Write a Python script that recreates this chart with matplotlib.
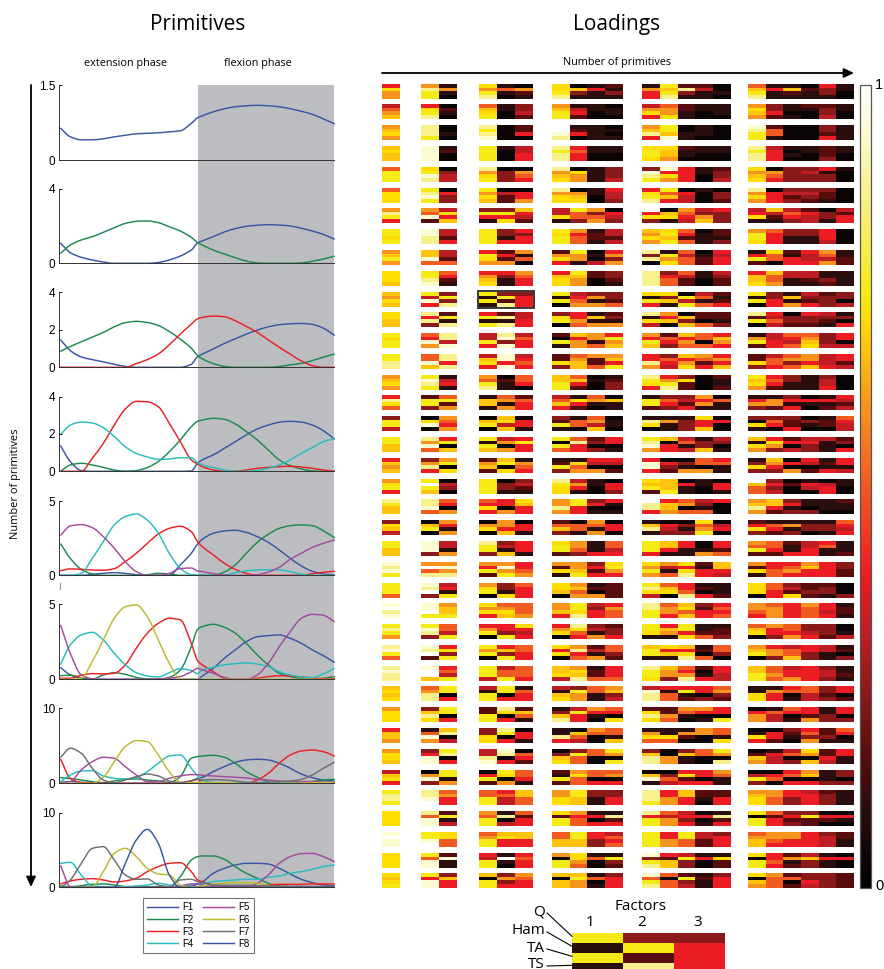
import numpy as np
import matplotlib
matplotlib.use("Agg")
import matplotlib.pyplot as plt
from matplotlib.colors import LinearSegmentedColormap
from matplotlib.patches import Rectangle, PathPatch
from matplotlib.path import Path

W, H = 884, 969

# ---------- primitives (x = % of gait cycle) ----------
X = [0.5, 4, 8, 12, 16, 20, 24, 28, 32, 36, 40, 44, 48, 50.3, 52, 56, 60, 64, 68, 72, 76, 80, 84, 88, 92, 96, 100]

P1_F1 = [.64,.47,.41,.41,.43,.47,.50,.53,.54,.55,.57,.59,.74,.85,.89,.97,1.03,1.07,1.09,1.10,1.09,1.07,1.03,.98,.92,.83,.73]

P2_F1 = [1.07,.57,.32,.18,.07,0,0,0,0,.04,.18,.39,.71,1.09,1.2,1.43,1.68,1.86,1.98,2.04,2.07,2.05,2.0,1.88,1.73,1.55,1.3]
P2_F2 = [.54,.98,1.25,1.43,1.66,1.91,2.14,2.25,2.27,2.18,1.96,1.73,1.39,1.11,.98,.71,.5,.3,.12,.02,0,0,0,.02,.11,.23,.38]

P3_F1 = [1.46,.89,.55,.41,.29,.16,.05,0,0,0,0,0,.16,.57,.7,.98,1.27,1.52,1.77,1.98,2.16,2.27,2.32,2.34,2.29,2.09,1.71]
P3_F2 = [.86,1.11,1.36,1.61,1.86,2.16,2.38,2.45,2.39,2.23,1.91,1.5,1.02,.63,.45,.2,.05,0,0,0,0,.04,.13,.21,.36,.54,.7]
P3_F3 = [0,0,0,0,0,0,0,.2,.41,.71,1.2,1.77,2.3,2.59,2.66,2.73,2.7,2.48,2.18,1.86,1.46,1.07,.7,.34,.09,0,0]

P4_F1 = [1.36,.52,.04,0,0,0,0,0,0,0,0,0,.02,.43,.61,.88,1.23,1.59,1.95,2.27,2.48,2.63,2.68,2.64,2.48,2.18,1.73]
P4_F2 = [0,.34,.43,.34,.21,.07,0,.04,.2,.52,1.05,1.68,2.39,2.68,2.75,2.84,2.79,2.54,2.13,1.68,1.14,.61,.3,.13,.02,0,0]
P4_F3 = [0,0,0,.7,1.5,2.48,3.34,3.75,3.73,3.46,2.57,1.59,.61,.39,.25,.07,0,0,.07,.16,.21,.25,.27,.23,.16,.07,0]
P4_F4 = [1.98,2.48,2.64,2.59,2.34,1.86,1.32,.96,.77,.64,.66,.73,.73,.46,.34,.2,.07,0,0,.05,.16,.34,.61,.96,1.27,1.59,1.75]

P5_F1 = [0,0,0,.07,.13,.18,.13,.04,0,0,0,.7,1.48,2.11,2.42,2.83,2.98,3.03,2.89,2.6,2.22,1.7,1.14,.63,.27,.09,.02]
P5_F2 = [2.11,1.14,.4,.09,0,0,0,0,.04,.13,.09,0,0,0,0,0,.22,.7,1.48,2.22,2.76,3.16,3.34,3.39,3.34,3.0,2.53]
P5_F3 = [.31,.43,.4,.36,.34,.45,.92,1.48,2.15,2.78,3.16,3.3,2.94,2.26,1.93,1.37,.81,.4,.13,0,0,0,0,.02,.11,.2,.27]
P5_F4 = [0,0,.13,1.14,2.26,3.39,3.95,4.13,3.72,2.83,1.48,.47,.04,0,0,0,0,.18,.29,.36,.38,.36,.25,.07,0,0,0]
P5_F5 = [2.71,3.32,3.41,3.21,2.6,1.82,.92,.25,0,0,.13,.45,.49,.29,.25,.11,.02,0,0,.04,.22,.54,1.08,1.48,1.88,2.15,2.38]

P6_F1 = [.78,.29,.07,0,0,0,0,0,0,0,0,0,0,0,.22,.73,1.4,1.96,2.51,2.84,2.91,2.96,2.73,2.4,1.96,1.58,1.13]
P6_F2 = [.24,.27,.11,0,.29,.44,.33,.13,.02,0,.13,.62,2.18,3.33,3.51,3.67,3.47,3.07,2.4,1.62,.96,.4,.18,.04,0,.07,.18]
P6_F3 = [.07,.07,.27,.38,.36,.4,.96,2.07,3.07,3.73,4.07,3.96,2.4,1.24,.96,.51,.07,0,0,.07,.18,.24,.22,.16,.09,.04,.04]
P6_F4 = [1.02,2.29,2.96,3.13,2.62,1.73,.96,.44,.22,.16,.44,.71,.58,.38,.62,.8,.96,1.04,1.09,1.02,.84,.51,.29,.16,.11,.36,.71]
P6_F5 = [3.6,1.73,.29,.04,0,0,0,0,0,.03,.07,.18,.5,.73,.62,.4,.13,0,0,.29,1.07,2.18,3.18,4.07,4.33,4.27,3.84]
P6_F6 = [0,0,.07,1.18,2.62,4.07,4.84,4.96,4.18,2.62,1.07,.02,0,0,0,0,0,0,0,0,0,0,0,0,0,0,0]

P7_F1 = [.13,.22,.13,.09,.04,0,0,0,0,0,0,0,.31,.67,.8,1.56,2.22,2.8,3.11,3.2,3.11,2.67,2.0,1.24,.76,.44,.31]
P7_F2 = [.76,.62,.44,.22,.09,.31,.53,.58,.44,.31,.13,.89,3.33,3.56,3.64,3.73,3.47,2.67,1.56,.8,.22,0,0,0,.22,.44,.53]
P7_F3 = [3.2,.67,.09,.04,0,0,0,0,0,0,0,.09,.31,.53,0,0,0,0,0,.44,1.33,2.67,3.78,4.31,4.44,4.22,3.64]
P7_F4 = [.22,1.11,1.64,1.69,.98,.67,.58,.76,1.56,2.67,3.64,3.78,2.0,.98,.44,.09,0,.09,.09,.09,.13,.09,.04,0,0,0,0]
P7_F5 = [0,.22,1.78,2.89,3.47,3.33,2.22,1.11,.22,.22,.67,.98,1.16,1.16,1.07,.98,.89,.8,.71,.53,.44,.31,.22,.22,.22,.18,.09]
P7_F6 = [0,0,0,0,.8,2.89,4.89,5.69,5.56,3.78,1.56,.13,.09,.13,.09,.09,.09,.04,0,0,0,0,0,.04,.09,.09,.09]
P7_F7 = [3.47,4.67,4.0,2.0,.44,.09,.44,.89,1.24,.98,.31,.09,.36,.53,.44,.49,.44,.31,.13,.09,.13,.22,.31,.53,1.11,2.0,2.8]

P8_F1 = [0,0,0,0,0,0,0,0,0,0,0,0,.18,.4,.71,1.88,2.54,2.99,3.21,3.21,3.12,2.54,1.79,1.07,.63,.31,.18]
P8_F2 = [.18,.09,.22,.4,.45,.31,.09,0,.09,.09,.09,1.43,3.66,4.11,4.2,4.2,3.75,2.77,1.88,1.21,.54,.09,0,0,0,0,0]
P8_F3 = [.45,.85,1.07,1.16,.98,.71,.85,1.21,2.1,2.77,3.21,3.3,2.1,.98,.76,.31,.18,.18,.18,.18,.31,.4,.4,.4,.45,.45,.45]
P8_F4 = [3.21,3.35,1.65,.18,.09,0,.09,.18,.31,.54,.31,.09,.31,.54,.54,.76,.89,.98,1.07,1.07,1.34,1.52,1.88,2.1,2.41,2.77,2.99]
P8_F5 = [2.9,.09,0,0,0,0,0,0,0,0,0,.18,.45,.45,.31,.09,0,0,0,.54,1.65,3.21,4.11,4.51,4.55,4.11,3.44]
P8_F6 = [0,0,0,.09,2.1,4.55,5.22,4.11,2.54,1.79,1.65,.31,0,.09,.18,.4,.54,.63,.63,.54,.27,.09,.09,.09,.09,.09,.09]
P8_F7 = [0,.98,3.21,5.22,5.45,3.66,1.65,1.07,1.12,.31,.09,.98,1.07,.76,.63,.31,.27,.27,.27,.22,.18,.18,.13,.13,.09,.09,.09]
P8_F8 = [0,0,0,0,0,0,3.2,6.34,7.77,5.89,1.65,0,0,0,0,0,0,0,0,0,0,0,0,0,0,0,0]

PANELS = [
    [P1_F1],
    [P2_F1, P2_F2],
    [P3_F1, P3_F2, P3_F3],
    [P4_F1, P4_F2, P4_F3, P4_F4],
    [P5_F1, P5_F2, P5_F3, P5_F4, P5_F5],
    [P6_F1, P6_F2, P6_F3, P6_F4, P6_F5, P6_F6],
    [P7_F1, P7_F2, P7_F3, P7_F4, P7_F5, P7_F6, P7_F7],
    [P8_F1, P8_F2, P8_F3, P8_F4, P8_F5, P8_F6, P8_F7, P8_F8],
]
Y_MAX = [1.5, 4, 4, 4, 5, 5, 10, 10]
Y_TICKS = [[0, 1.5], [0, 4], [0, 2, 4], [0, 2, 4], [0, 5], [0, 5], [0, 10], [0, 10]]
FACTOR_NAMES = ["F1", "F2", "F3", "F4", "F5", "F6", "F7", "F8"]

# ---------- loadings: one string per row of the matrix; groups of 1..6 factors,
# each four-character token = one factor column, top to bottom over Q, Ham, TA, TS
LOADINGS_TOP = [
 "5977 7baa 1710 97ab 1610 0721 99ab 0831 1511 2131 1755 a8ab 2b31 2411 0010 68ab 1511 1821 0211 5331 1100",
 "4678 59ab 0210 689a 1100 3342 78aa 1452 1100 0110 4795 6779 2211 1100 1110 7987 3352 1101 2100 2334 1100",
 "7897 bbba 0010 babc 0000 2250 ddcb 1250 1111 0101 78b5 aa8c 0011 1110 0000 cbaa 2661 0000 0000 3325 1111",
 "8988 cccc 1200 aaaa 1000 4455 babb 5655 1100 1100 9aa9 9887 2110 1100 1100 babb 4555 1010 1100 2223 1100",
 "6aaa 9acb 0344 b79a 0333 0765 b789 0977 1111 3334 3cba c597 5555 1100 2334 9789 0765 3333 3433 5133 1000",
 "6999 abca 0533 a798 0422 0557 b799 0789 1100 5443 59ab a685 0544 1000 0332 b797 0555 3423 3432 3221 0000",
 "7ba5 76c2 4958 3a51 3a59 8542 4491 a663 7367 0543 d593 0891 7654 4378 5333 4591 8421 4653 2544 0331 4255",
 "aa9a ccbb 4425 aaaa 3315 5355 a9aa 7566 1221 4424 8797 9a8a 6526 0111 2213 7aa9 6555 3311 3311 5554 0000",
 "78a7 88c6 4426 5a97 2527 7160 2795 a771 0104 5737 b3b0 1a79 6466 0122 5455 15a2 9660 2155 5445 7647 1122",
 "9998 aabc 6521 5789 5311 7655 5899 a877 2200 3321 bbbb 3566 6422 1100 4322 5889 8667 4411 4421 1132 1111",
 "8798 a4c5 3a3b a1a1 3a2b 3555 a1a0 4567 3717 3326 91a5 9381 0a4a 4616 2125 a1a0 3355 1817 4325 2333 3304",
 "9988 b5b3 2a1b 5a1a 2b1b 4455 39a0 5576 1817 2317 b194 7580 0838 2206 2213 b2a0 5464 0332 5332 4321 1305",
 "a9aa 65c7 bb4c 44a5 bc3c 4655 20a1 8577 7716 5a78 75a8 2653 8576 6606 5875 17a2 4455 6546 6789 3334 5504",
]
LOADINGS_MID = [
 "aabb 66c8 bb5b 4895 cc5c 4565 2293 6788 7226 785a 55b7 3654 8579 7625 5758 2293 4665 6736 7758 4445 5524",
 "7897 acba 1451 76ab 0211 6650 88aa 6852 0100 1233 ba95 57ab 3922 0000 2112 a897 5652 3311 1111 3445 0000",
 "5b96 2aa3 6a27 1881 6717 2655 4685 1952 6710 0811 1aa2 3653 3425 7571 0611 1573 1772 3515 0510 1512 5424",
 "3aa4 09c0 7657 08a0 8948 0551 32a1 1660 6748 0110 1b90 1711 1333 9558 0500 3091 3650 3225 0310 1220 6544",
 "aa88 b7c6 5a08 a1a8 4707 5a55 a0a6 6b55 2303 5501 abc7 8055 4614 1338 4301 8197 5973 2504 4533 4111 2305",
 "5878 37b5 7a09 2782 8a09 1765 12a3 1967 5407 5402 5cc5 0532 0317 6607 5611 1393 8753 0507 5402 1215 5514",
 "79a5 ada8 0430 aaaa 0331 3421 ba99 4751 1100 0553 98a2 888a 0511 1100 0551 d866 3534 0200 1540 0455 1100",
 "ba88 bbc6 6507 6595 5507 9855 77b7 aa55 3501 5101 dbb5 5887 6706 4316 5000 78b7 8852 3513 1103 1110 2110",
 "3984 08a0 7517 0790 7758 0551 2683 0661 7617 0550 18b1 0543 0313 967a 0450 2593 1652 1713 1330 1331 6545",
 "aa88 ccc3 4417 baa3 3418 5551 9aa2 7763 1115 6645 aaa5 8851 5511 0017 5526 76a2 6652 2115 4455 5611 1112",
 "cbca 7d6b 7c7b 75a2 7c7a 5567 7291 778a 3525 9a75 97a7 7416 959b 2155 8854 7291 5566 5675 7855 5555 3322",
 "aaa6 cbd3 451a 79a0 3319 6555 9980 7867 1207 2222 ab94 6890 556b 1205 1112 9990 6655 3429 2232 2331 0003",
 "cdbc ccda 788a 9795 6798 6667 7785 aa9b 4355 5766 bbaa 6775 8968 3255 5656 7765 6777 5555 7666 5545 1221",
]
LOADINGS_BOT = [
 "aba7 acb3 664a 57a0 553a 9545 5790 b965 3417 2335 aa91 5871 aa59 1126 1223 6890 7553 6657 3345 3332 0014",
 "bca6 cbd2 593a a7a0 583a 6655 9590 7b56 2417 6632 8aa1 9581 859b 1206 6630 78a0 5773 4668 5533 4411 1203",
 "bcbb cdd8 564a aaa4 466a 6665 8894 798b 1226 5556 baa9 8773 657b 2015 5544 88aa 6676 4557 5555 3443 1121",
 "8989 67bb aa05 41aa aa05 1655 4189 3a77 6611 7834 4cbb 5166 5a12 5503 6732 1199 1755 5601 6644 3323 5502",
 "7999 38b9 aa05 22aa b905 2861 138b 4a55 7510 6509 29b9 2276 7610 7501 550a 0577 1644 6501 5527 1133 5503",
 "5887 16c7 8b04 3399 ba05 0551 11b5 0864 7600 6618 1796 1196 1720 7700 6619 0195 0552 3210 5637 2231 6501",
 "7998 35cc ab05 44bc cb05 0652 0389 3a66 6600 a70a 38bb 0077 3811 6600 a70b 0287 1544 4603 9708 2254 5511",
 "4895 07c3 aa17 05a2 a907 6651 21a2 7966 6605 6705 08c1 0364 5925 5505 7611 04a3 0560 5605 7805 1113 3303",
 "abba bbcd 6755 66aa 5644 8866 7799 aa88 3311 3355 bbba 5577 8855 2210 2255 7899 7766 5533 4555 2333 1111",
 "9999 b6cc 2a14 76aa 1b04 6255 92aa 7566 1505 1b25 b5aa 6477 4535 0501 1b25 a0aa 6255 3523 3a22 0520 0510",
 "cdcc aacd 9966 67aa 8955 8855 6688 aa88 5533 4656 aaaa 5577 aa66 4422 3555 6788 7765 7755 5555 3444 2211",
 "9999 a6cc 2c11 54aa 1d10 5655 70aa 9976 1600 1a32 c3ab 5288 4a33 1500 1922 90aa 5565 2712 4833 1511 0500",
 "989a a5cc 3855 80aa 3735 7655 8088 8a77 1601 3555 c6ab 6066 2a34 1211 3555 9087 7666 2602 3354 3333 2222",
]
INSET_LOADINGS = ["a1a1", "3a2b", "3555"]
INSET_MUSCLES = ["Q", "Ham", "TA", "TS"]
INSET_FACTORS = ["1", "2", "3"]

LEVEL_VALUES = {"0": .03, "1": .10, "2": .165, "3": .24, "4": .32, "5": .39, "6": .50, "7": .60,
                "8": .67, "9": .71, "a": .74, "b": .86, "c": .94, "d": 1.0}

# ---------- styles ----------
LINE_COLORS = ["#3B55A5", "#1C8A4E", "#ED2024", "#27BDBE", "#A54A9E", "#BDB82D", "#6D6E71", "#3954A4"]
GRAY = "#BBBDC0"
CMAP = LinearSegmentedColormap.from_list("loadings", [
    (0, "#000000"), (.10, "#2B0F0F"), (.165, "#5A0C0C"), (.24, "#8B1A1A"), (.32, "#BF1E24"),
    (.39, "#ED1C24"), (.50, "#F15A22"), (.60, "#F7941D"), (.67, "#FFC20E"), (.71, "#FFDE00"),
    (.74, "#F5EA14"), (.86, "#F8F08A"), (.94, "#FDFBD0"), (1, "#FFFFFF")])

TITLE_FONT = "Open Sans"
TICK_FONT = "Liberation Sans"

fig = plt.figure(figsize=(W / 100, H / 100), dpi=100, facecolor="white")
bg = fig.add_axes([0, 0, 1, 1])
bg.set_xlim(0, W)
bg.set_ylim(H, 0)
bg.axis("off")


def column(token):
    return [LEVEL_VALUES[c] for c in token]


def block(ax, tokens, x0, x1, y0, y1):
    grid = np.array([column(t) for t in tokens]).T
    ax.imshow(grid, cmap=CMAP, vmin=0, vmax=1, extent=(x0, x1, y1, y0), aspect="auto", interpolation="nearest")


def smooth_path(xs, ys):
    """Bezier path through the read points, with slopes that never overshoot them."""
    xs, ys = np.asarray(xs, float), np.asarray(ys, float)
    h = np.diff(xs)
    d = np.diff(ys) / h
    m = np.zeros_like(ys)
    m[0], m[-1] = d[0], d[-1]
    for i in range(1, len(ys) - 1):
        if d[i - 1] * d[i] > 0:
            m[i] = 2 * d[i - 1] * d[i] / (d[i - 1] + d[i])
    verts = [(xs[0], ys[0])]
    codes = [Path.MOVETO]
    for i in range(len(h)):
        verts += [(xs[i] + h[i] / 3, ys[i] + m[i] * h[i] / 3),
                  (xs[i + 1] - h[i] / 3, ys[i + 1] - m[i + 1] * h[i] / 3),
                  (xs[i + 1], ys[i + 1])]
        codes += [Path.CURVE4] * 3
    return Path(verts, codes)


# gray flexion band
bg.add_patch(Rectangle((197.7, 85.3), 136.6, 802, facecolor=GRAY, edgecolor="none", zorder=0))

# heat blocks
rows = LOADINGS_TOP + LOADINGS_MID + LOADINGS_BOT
ROW_TOP, ROW_PITCH, ROW_H = 84.5, 20.784, 14.2
GROUP_X = [(382.0, 400.0), (421.0, 456.7), (478.7, 532.0), (552.0, 622.7), (642.0, 730.3), (747.7, 853.7)]
for r, row in enumerate(rows):
    tokens = row.split()
    i = 0
    for g, (x0, x1) in enumerate(GROUP_X):
        n = g + 1
        y0 = ROW_TOP + r * ROW_PITCH
        block(bg, tokens[i:i + n], x0, x1, y0, y0 + ROW_H)
        i += n

# highlight box on three-factor solution
bg.add_patch(Rectangle((477.5, 290.8), 56, 17.2, fill=False, edgecolor="#2A2A2A", lw=1.3, zorder=6))

# colourbar
gradient = np.linspace(1, 0, 256).reshape(-1, 1)
bg.imshow(gradient, cmap=CMAP, vmin=0, vmax=1, extent=(859.5, 870.5, 888, 85), aspect="auto")
bg.add_patch(Rectangle((859.5, 85), 11, 803, fill=False, edgecolor="#555555", lw=0.9, zorder=6))
bg.text(875, 85, "1", fontsize=10.5, family=TICK_FONT, va="center", ha="left")
bg.text(875, 886, "0", fontsize=10.5, family=TICK_FONT, va="center", ha="left")

# inset
INS_X = [572, 623, 673.5, 724.5]
INS_LABEL_X = [590, 642, 698]
INS_Y0, INS_DY = 933.3, 10.0
for k, token in enumerate(INSET_LOADINGS):
    block(bg, [token], INS_X[k], INS_X[k + 1], INS_Y0, INS_Y0 + 4 * INS_DY)
    bg.text(INS_LABEL_X[k], 923, INSET_FACTORS[k], fontsize=11, family=TITLE_FONT, ha="center", va="center")
bg.text(640, 906, "Factors", fontsize=11, family=TITLE_FONT, ha="center", va="center")
label_y = [912, 931, 948, 965]
for k, m in enumerate(INSET_MUSCLES):
    bg.text(545, label_y[k], m, fontsize=11, family=TITLE_FONT, ha="right", va="center", clip_on=False)
    bg.plot([547, 572], [label_y[k] + 1, INS_Y0 + 3 + k * INS_DY + (0 if k < 3 else -1)], color="black", lw=0.8, zorder=7)

# titles
bg.text(198, 24, "Primitives", fontsize=15, family=TITLE_FONT, ha="center", va="center")
bg.text(617, 24, "Loadings", fontsize=15, family=TITLE_FONT, ha="center", va="center")
bg.text(125, 63, "extension phase", fontsize=7.8, family=TITLE_FONT, ha="center", va="center")
bg.text(258, 63, "flexion phase", fontsize=7.8, family=TITLE_FONT, ha="center", va="center")
bg.text(617, 62, "Number of primitives", fontsize=7.8, family=TITLE_FONT, ha="center", va="center")
bg.text(16, 484, "Number of primitives", fontsize=7.9, family=TITLE_FONT, ha="center", va="center", rotation=90)

# arrows
arrow = dict(arrowstyle="-|>,head_width=0.28,head_length=0.6", color="black", lw=1.3, shrinkA=0, shrinkB=0)
bg.annotate("", xy=(854, 73), xytext=(382, 73), arrowprops=arrow)
bg.annotate("", xy=(31, 887), xytext=(31, 85), arrowprops=arrow)
bg.plot([59.5, 59.5], [583, 589], color="#999999", lw=0.8)

# primitive panels
TOPS = [85.3, 188.7, 292.3, 396.7, 501.0, 604.3, 708.3, 812.7]
BOTS = [160.3, 263.3, 367.3, 471.3, 575.3, 679.3, 783.3, 887.3]
LEFT, RIGHT = 59.3, 334.3
handles = []
for p, curves in enumerate(PANELS):
    ax = fig.add_axes([LEFT / W, 1 - BOTS[p] / H, (RIGHT - LEFT) / W, (BOTS[p] - TOPS[p]) / H])
    ax.patch.set_alpha(0)
    ax.set_xlim(0, 100)
    ax.set_ylim(0, Y_MAX[p])
    handles = []
    for c, y in enumerate(curves):
        ax.add_patch(PathPatch(smooth_path(X, y), facecolor="none", edgecolor=LINE_COLORS[c], lw=1.05,
                               clip_on=False, joinstyle="round", capstyle="round"))
        h, = ax.plot([], [], color=LINE_COLORS[c], lw=1.05, label=FACTOR_NAMES[c])
        handles.append(h)
    ax.set_xticks([])
    ax.set_yticks(Y_TICKS[p])
    ax.set_yticklabels([f"{v:g}" for v in Y_TICKS[p]], fontsize=8.5, family=TICK_FONT)
    ax.tick_params(axis="y", direction="in", length=2, width=0.6, pad=3)
    for s in ("top", "right"):
        ax.spines[s].set_visible(False)
    for s in ("left", "bottom"):
        ax.spines[s].set_linewidth(0.7)
        ax.spines[s].set_color("#333333")

# legend
leg = fig.legend(handles=handles, labels=FACTOR_NAMES, ncol=2, loc="upper left",
                 bbox_to_anchor=(143 / W, 1 - 898 / H), frameon=True, fancybox=False,
                 edgecolor="#777777", framealpha=1, borderpad=0.45, labelspacing=0.22, borderaxespad=0,
                 handlelength=3.2, handletextpad=0.4, columnspacing=1.0,
                 prop={"family": TICK_FONT, "size": 7})
leg.get_frame().set_linewidth(0.8)

fig.savefig("out.png", dpi=100)
